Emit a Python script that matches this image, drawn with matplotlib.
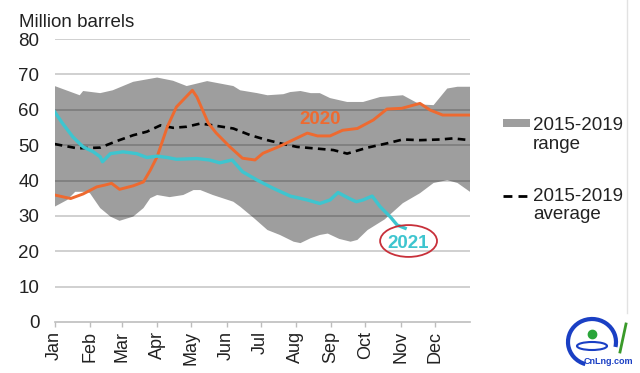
import numpy as np
import matplotlib
matplotlib.use("Agg")
import matplotlib.pyplot as plt
from matplotlib.patches import Rectangle, Ellipse, Arc
from matplotlib.lines import Line2D

plt.rcParams['font.family'] = ['Liberation Sans', 'DejaVu Sans']

# ---- data (x = day of year) ----
month_labels = ["Jan", "Feb", "Mar", "Apr", "May", "Jun", "Jul", "Aug", "Sep", "Oct", "Nov", "Dec"]
month_starts = [0, 31, 59, 90, 120, 151, 181, 212, 243, 273, 304, 334]
y_ticks = [0, 10, 20, 30, 40, 50, 60, 70, 80]

range_hi_day = [0, 22, 25, 40, 51, 69, 90, 104, 116, 134, 157, 163, 178, 187, 201, 207, 216, 225, 233,
                242, 257, 271, 286, 306, 321, 333, 345, 354, 365]
range_hi_val = [66.7, 64.1, 65.3, 64.7, 65.5, 67.9, 69.1, 68.2, 66.7, 68.1, 66.7, 65.5, 64.7, 64.1, 64.4, 65.0,
                65.3, 64.7, 64.7, 63.3, 62.2, 62.2, 63.6, 64.1, 61.5, 61.3, 66.0, 66.5, 66.5]

range_lo_day = [0, 11, 18, 28, 31, 40, 49, 57, 69, 78, 84, 90, 101, 113, 122, 128, 139, 157, 163, 175, 187,
                198, 210, 216, 225, 233, 240, 250, 260, 266, 275, 290, 306, 321, 333, 345, 354, 365]
range_lo_val = [32.6, 34.5, 36.8, 36.8, 36.4, 32.2, 29.8, 28.6, 29.8, 32.2, 35.0, 35.9, 35.3, 35.9, 37.3, 37.3,
                35.9, 34.0, 32.6, 29.4, 26.0, 24.6, 22.7, 22.3, 23.7, 24.6, 25.0, 23.5, 22.7, 23.2, 26.0, 29.0,
                33.6, 36.4, 39.3, 40.1, 39.3, 36.8]

avg_day = [0, 20, 40, 55, 69, 81, 93, 104, 116, 128, 139, 157, 172, 187, 201, 213, 231, 245, 257, 275, 292,
           306, 321, 339, 350, 365]
avg_val = [50.3, 49.1, 49.3, 51.2, 52.8, 53.8, 55.6, 54.9, 55.2, 56.1, 55.6, 54.7, 52.8, 51.4, 50.3, 49.5,
           49.0, 48.6, 47.6, 49.3, 50.5, 51.6, 51.4, 51.6, 51.9, 51.4]

y2020_day = [0, 14, 25, 37, 44, 50, 57, 69, 78, 84, 90, 99, 107, 121, 125, 135, 142, 154, 165, 176, 183, 198,
             209, 222, 231, 242, 253, 266, 280, 292, 305, 321, 330, 341, 365]
y2020_val = [35.9, 34.9, 36.2, 38.2, 38.7, 39.2, 37.5, 38.5, 39.6, 42.9, 46.7, 55.2, 60.8, 65.5, 63.6, 56.2,
             53.4, 49.5, 46.3, 45.8, 47.7, 49.7, 51.4, 53.4, 52.6, 52.6, 54.2, 54.7, 57.1, 60.2, 60.4, 61.8,
             59.9, 58.5, 58.5]

y2021_day = [0, 7, 16, 25, 34, 40, 42, 49, 60, 72, 81, 90, 99, 107, 125, 136, 145, 156, 165, 178, 192, 207,
             222, 233, 242, 249, 259, 265, 271, 279, 286, 295, 301, 308]
y2021_val = [59.4, 56.1, 52.3, 49.5, 48.1, 46.7, 45.3, 47.6, 48.1, 47.6, 46.5, 46.9, 46.5, 46.0, 46.2, 45.8,
             45.0, 45.8, 42.5, 40.1, 37.8, 35.6, 34.5, 33.5, 34.5, 36.6, 34.9, 34.0, 34.5, 35.6, 32.6, 29.7,
             27.4, 26.5]

# ---- colours ----
c_fill = "#9e9e9e"
c_2020 = "#ee6a30"
c_2021 = "#3ec5cf"
c_text = "#222222"

W, H = 640, 373
def fx(p): return p / W
def fy(p): return 1 - p / H

fig = plt.figure(figsize=(6.4, 3.73), dpi=100)
ax = fig.add_axes([fx(54.7), fy(322), (470 - 54.7) / W, (322 - 39) / H])

poly_x = np.r_[range_hi_day, range_lo_day[::-1]]
poly_y = np.r_[range_hi_val, range_lo_val[::-1]]
ax.fill(poly_x, poly_y, color=c_fill, lw=0, zorder=1)

for v in y_ticks[1:]:
    ax.axhline(v, color="black", alpha=0.2, lw=1.3, zorder=1.5)

ax.plot(avg_day, avg_val, color="black", lw=1.9, dashes=(2.9, 2.0), zorder=3)
ax.plot(y2020_day, y2020_val, color=c_2020, lw=2.1, zorder=4, solid_joinstyle="round")
ax.plot(y2021_day, y2021_val, color=c_2021, lw=2.4, zorder=5, solid_joinstyle="round")

ax.text(233, 57.3, "2020", color=c_2020, fontsize=13.5, fontweight="bold", ha="center", va="center", zorder=6)
ax.text(311, 22.3, "2021", color=c_2021, fontsize=13.5, fontweight="bold", ha="center", va="center", zorder=6)
ax.add_patch(Ellipse((311, 22.9), 50, 9.0, fill=False, edgecolor="#c8303a", lw=1.3, zorder=6))

ax.set_xlim(0, 365)
ax.set_ylim(0, 80)
ax.set_yticks(y_ticks)
ax.set_yticklabels([str(v) for v in y_ticks])
ax.set_xticks(month_starts)
ax.set_xticklabels(month_labels, rotation=90, ha="center", va="top")
ax.tick_params(axis="y", length=0, pad=11, labelsize=13.5, labelcolor=c_text)
ax.tick_params(axis="x", length=3.5, width=1, color="#bdbdbd", pad=3, labelsize=13, labelcolor=c_text)
for s in ["top", "right", "left"]:
    ax.spines[s].set_visible(False)
ax.spines["bottom"].set_color("#bdbdbd")
ax.spines["bottom"].set_linewidth(1.2)
ax.spines["bottom"].set_zorder(2)

fig.text(fx(19), fy(27), "Million barrels", fontsize=13.5, color=c_text, va="baseline", ha="left")

# legend (manual)
fig.add_artist(Rectangle((fx(503), fy(127)), 27 / W, 8 / H, transform=fig.transFigure,
                         facecolor=c_fill, edgecolor="none"))
fig.text(fx(533), fy(130), "2015-2019", fontsize=13.5, color=c_text, va="baseline", ha="left")
fig.text(fx(533), fy(149), "range", fontsize=13.5, color=c_text, va="baseline", ha="left")
fig.add_artist(Line2D([fx(503), fx(531)], [fy(196), fy(196)], transform=fig.transFigure,
                      color="black", lw=2.0, dashes=(3.2, 2.2)))
fig.text(fx(533), fy(201), "2015-2019", fontsize=13.5, color=c_text, va="baseline", ha="left")
fig.text(fx(533), fy(219), "average", fontsize=13.5, color=c_text, va="baseline", ha="left")

# right frame line
fig.add_artist(Line2D([fx(627), fx(627)], [fy(0), fy(313)], transform=fig.transFigure,
                      color="#e2e2e2", lw=1.0))

# logo approximation
fig.add_artist(Arc((fx(592), fy(342)), 48 / W, 46 / H, theta1=-20, theta2=260, transform=fig.transFigure,
                   color="#1a3fc4", lw=3))
fig.add_artist(Ellipse((fx(592), fy(346)), 30 / W, 8 / H, transform=fig.transFigure,
                       fill=False, edgecolor="#1a3fc4", lw=1.5))
fig.add_artist(Line2D([fx(592)], [fy(334)], transform=fig.transFigure, marker="o",
                      markersize=6, color="#2aa53a", lw=0))
fig.add_artist(Line2D([fx(620), fx(626)], [fy(352), fy(324)], transform=fig.transFigure,
                      color="#3a9a2a", lw=2))
fig.text(fx(608), fy(364), "CnLng.com", fontsize=6.5, color="#1a3fc4", ha="center", va="baseline",
         fontweight="bold")

fig.savefig("out.png", dpi=100, facecolor="white")
